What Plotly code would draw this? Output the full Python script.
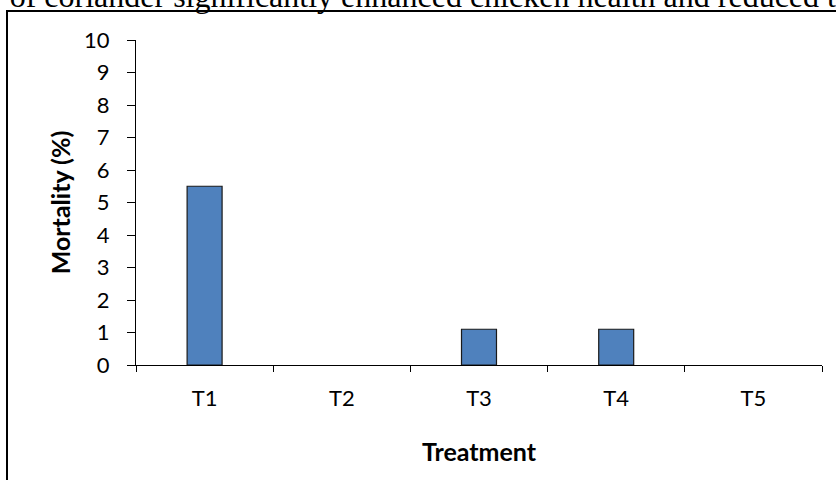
import plotly.graph_objects as go

categories = ["T1", "T2", "T3", "T4", "T5"]
mortality = [5.5, 0, 1.1, 1.1, 0]
y_ticks = list(range(0, 11))

W, H = 836, 480
L, R, T, B = 136, 14, 40, 115
pw, ph = W - L - R, H - T - B

def px(x):
    return (x - L) / pw

def py(y):
    return (H - B - y) / ph

fig = go.Figure(go.Bar(
    x=categories, y=mortality,
    marker=dict(color="#4F81BD",
                line=dict(color="#1a1a1a", width=[1.2 if v > 0 else 0 for v in mortality])),
))

tick_font = dict(family="Lato, sans-serif", size=22, color="#000000")
title_font = dict(family="Lato, sans-serif", size=25, color="#000000")

fig.update_layout(
    width=W, height=H,
    margin=dict(l=L, r=R, t=T, b=B, pad=0),
    paper_bgcolor="white", plot_bgcolor="white",
    bargap=0.745,
    showlegend=False,
    xaxis=dict(
        range=[-0.5, 4.5], showline=True, linecolor="#000000", linewidth=1,
        ticks="outside", tickson="boundaries", ticklen=6, tickcolor="#000000",
        tickfont=tick_font, showgrid=False, ticklabelstandoff=14,
        title=dict(text="<b>Treatment</b>", font=title_font, standoff=33),
    ),
    yaxis=dict(
        range=[0, 10], tickvals=y_ticks, showline=True, linecolor="#000000", linewidth=1,
        ticks="outside", ticklen=8, tickcolor="#000000", tickfont=tick_font,
        showgrid=False, zeroline=False, ticklabelstandoff=13,
        title=dict(text="<b>Mortality (%)</b>", font=title_font, standoff=6),
    ),
    shapes=[dict(
        type="rect", xref="paper", yref="paper",
        x0=px(7), x1=px(W + 20), y0=py(11), y1=py(H + 20),
        line=dict(color="#000000", width=2), fillcolor="rgba(0,0,0,0)",
    )],
    annotations=[dict(
        text="r of coriander significantly enhanced chicken health and reduced the",
        xref="paper", yref="paper", x=px(-11), y=py(16),
        xanchor="left", yanchor="bottom", showarrow=False,
        font=dict(family="Liberation Serif, Times New Roman, serif", size=32, color="#000000"),
    )],
)

fig.write_html("out.html", config={"displayModeBar": False},
               post_script="document.body.style.margin='0px';")
